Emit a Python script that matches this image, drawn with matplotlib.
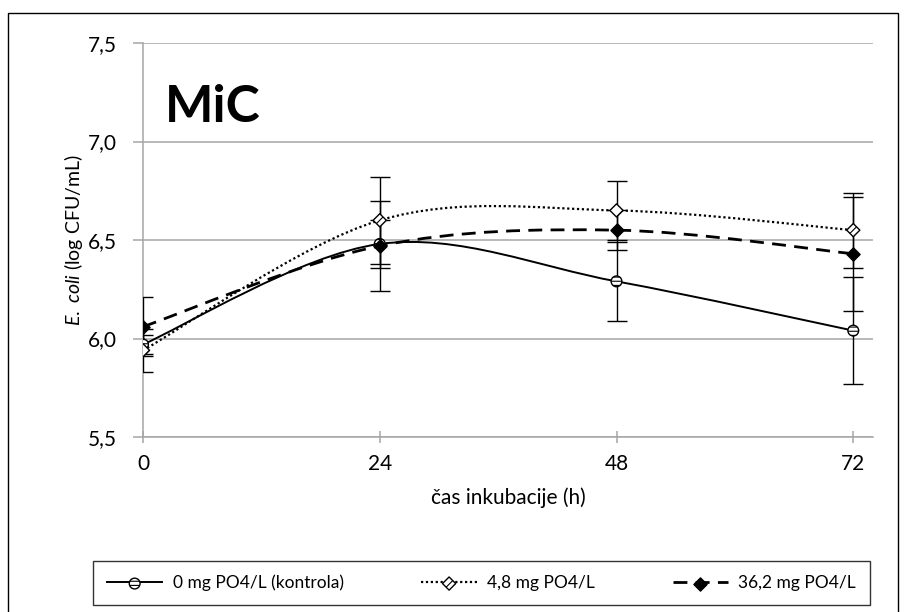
import matplotlib
matplotlib.use("Agg")
import matplotlib.pyplot as plt
from matplotlib.path import Path
from matplotlib.patches import PathPatch, Rectangle
from matplotlib.legend_handler import HandlerTuple

plt.rcParams['font.family'] = ['Lato', 'DejaVu Sans']
plt.rcParams['mathtext.fontset'] = 'custom'
plt.rcParams['mathtext.rm'] = 'Lato'
plt.rcParams['mathtext.it'] = 'Lato:italic'
plt.rcParams['hatch.linewidth'] = 0.8

# data
hours = [0, 24, 48, 72]
kontrola = [5.97, 6.48, 6.29, 6.04]
kontrola_err = [0.05, 0.12, 0.20, 0.27]
po4_48 = [5.94, 6.60, 6.65, 6.55]
po4_48_err = [0.11, 0.22, 0.15, 0.19]
po4_362 = [6.06, 6.47, 6.55, 6.43]
po4_362_err = [0.15, 0.23, 0.10, 0.29]
labels = ["0 mg PO4/L (kontrola)", "4,8 mg PO4/L", "36,2 mg PO4/L"]


def smooth_path(x, y):
    # excel-style smoothed line as cubic bezier segments
    pts = list(zip(x, y))
    verts = [pts[0]]
    codes = [Path.MOVETO]
    n = len(pts)
    for i in range(n - 1):
        p0 = pts[i - 1] if i > 0 else pts[i]
        p1 = pts[i]
        p2 = pts[i + 1]
        p3 = pts[i + 2] if i + 2 < n else pts[i + 1]
        c1 = (p1[0] + (p2[0] - p0[0]) / 6, p1[1] + (p2[1] - p0[1]) / 6)
        c2 = (p2[0] - (p3[0] - p1[0]) / 6, p2[1] - (p3[1] - p1[1]) / 6)
        verts += [c1, c2, p2]
        codes += [Path.CURVE4] * 3
    return Path(verts, codes)


fig = plt.figure(figsize=(9.06, 6.12), dpi=100)
fig.patches.append(Rectangle((8 / 906, -0.05), 890 / 906, 1.05 - 13 / 612,
                             transform=fig.transFigure, fill=False,
                             edgecolor='black', linewidth=1.0))
ax = fig.add_axes([143 / 906, 1 - 437 / 612, 730 / 906, 394 / 612])

series = [
    (kontrola, kontrola_err, '-', 'o', 'white', '----', 1.4, 60),
    (po4_48, po4_48_err, (0, (1, 1.2)), 'D', 'white', '//', 1.6, 45),
    (po4_362, po4_362_err, (0, (5, 3)), 'D', 'black', None, 2.0, 45),
]

handles = []
for (vals, err, ls, mk, fc, hatch, lw, size), lab in zip(series, labels):
    ax.errorbar(hours, vals, yerr=err, fmt='none', ecolor='black',
                elinewidth=1.0, capsize=7, capthick=1.0, zorder=3)
    patch = PathPatch(smooth_path(hours, vals), fill=False, edgecolor='black',
                      linestyle=ls, linewidth=lw, zorder=4)
    ax.add_patch(patch)
    sc = ax.scatter(hours, vals, s=size, marker=mk, facecolor=fc,
                    edgecolor='black', linewidth=1.0, hatch=hatch, zorder=5)
    ln, = ax.plot([], [], color='black', linestyle=ls, linewidth=lw)
    handles.append((ln, sc))

ax.set_xlim(0, 74)
ax.set_ylim(5.5, 7.5)
ax.set_xticks(hours)
ax.set_yticks([5.5, 6.0, 6.5, 7.0, 7.5])
ax.set_yticklabels(["5,5", "6,0", "6,5", "7,0", "7,5"])
ax.yaxis.grid(True, color='#A6A6A6', linewidth=1.1)
ax.set_axisbelow(True)
for s in ['top', 'right']:
    ax.spines[s].set_visible(False)
for s in ['left', 'bottom']:
    ax.spines[s].set_color('#A6A6A6')
    ax.spines[s].set_linewidth(1.1)
ax.tick_params(axis='y', direction='out', length=7, width=1.1, color='#A6A6A6',
               pad=12, labelsize=15)
ax.tick_params(axis='x', direction='inout', length=8, width=1.1, color='#A6A6A6',
               pad=8, labelsize=15)

ax.set_xlabel("čas inkubacije (h)", fontsize=15, labelpad=10)
ax.set_ylabel(r"$\mathit{E.\ coli}$ (log CFU/mL)", fontsize=14, labelpad=2)

ax.text(0.03, 0.80, "MiC", transform=ax.transAxes, fontsize=37,
        fontweight='bold', ha='left', va='baseline')

leg = fig.legend(handles, labels, handler_map={tuple: HandlerTuple(ndivide=1)},
                 loc='lower left', bbox_to_anchor=(93 / 906, 1 - 605 / 612, 777 / 906, 45 / 612),
                 mode='expand', ncol=3, fontsize=12.5, frameon=True, fancybox=False,
                 edgecolor='black', handlelength=3.2, scatterpoints=1,
                 borderpad=0.8, borderaxespad=0, columnspacing=2.5, handletextpad=0.6)
leg.get_frame().set_linewidth(1.0)

fig.savefig("out.png", dpi=100)
